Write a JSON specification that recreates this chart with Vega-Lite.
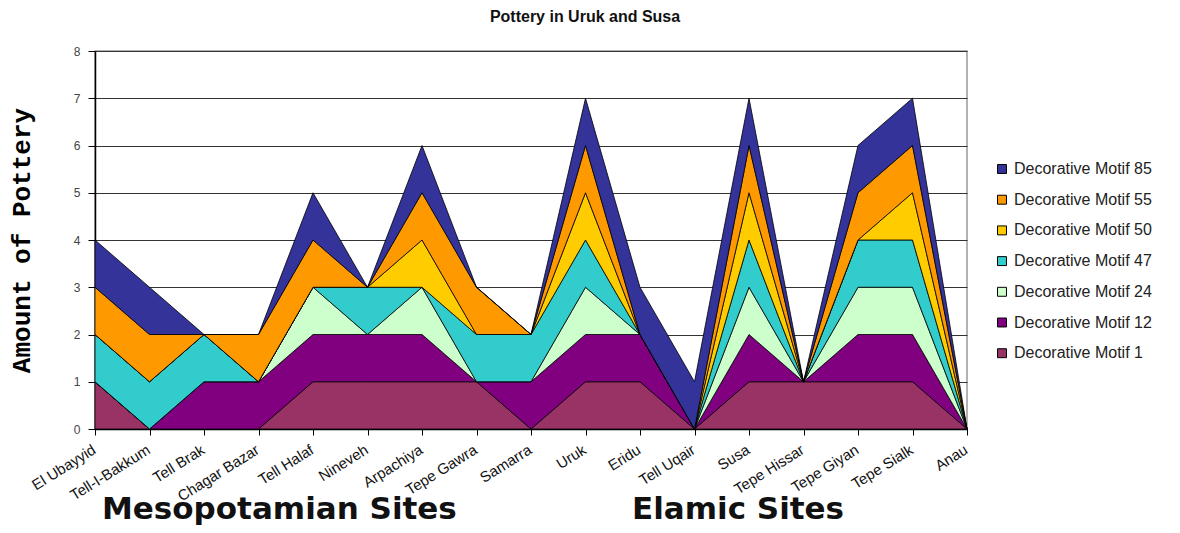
{
  "$schema": "https://vega.github.io/schema/vega-lite/v6.json",
  "autosize": {"type": "none"},
  "padding": {"left": 95, "top": 51, "right": 213, "bottom": 104},
  "width": 872,
  "height": 378,
  "background": "white",
  "title": {
    "text": "Pottery in Uruk and Susa",
    "font": "Liberation Sans",
    "fontSize": 16,
    "fontWeight": "bold",
    "color": "#111",
    "anchor": "middle",
    "dx": 54,
    "offset": 20
  },
  "config": {
    "view": {"stroke": "#999", "strokeWidth": 1.5},
    "axis": {"labelFont": "Liberation Sans", "titleFont": "Liberation Sans"}
  },
  "datasets": {
    "pottery": [
      {"site": "El Ubayyid", "motif": "Decorative Motif 1", "n": 1},
      {"site": "El Ubayyid", "motif": "Decorative Motif 12", "n": 0},
      {"site": "El Ubayyid", "motif": "Decorative Motif 24", "n": 0},
      {"site": "El Ubayyid", "motif": "Decorative Motif 47", "n": 1},
      {"site": "El Ubayyid", "motif": "Decorative Motif 50", "n": 0},
      {"site": "El Ubayyid", "motif": "Decorative Motif 55", "n": 1},
      {"site": "El Ubayyid", "motif": "Decorative Motif 85", "n": 1},
      {"site": "Tell-I-Bakkum", "motif": "Decorative Motif 1", "n": 0},
      {"site": "Tell-I-Bakkum", "motif": "Decorative Motif 12", "n": 0},
      {"site": "Tell-I-Bakkum", "motif": "Decorative Motif 24", "n": 0},
      {"site": "Tell-I-Bakkum", "motif": "Decorative Motif 47", "n": 1},
      {"site": "Tell-I-Bakkum", "motif": "Decorative Motif 50", "n": 0},
      {"site": "Tell-I-Bakkum", "motif": "Decorative Motif 55", "n": 1},
      {"site": "Tell-I-Bakkum", "motif": "Decorative Motif 85", "n": 1},
      {"site": "Tell Brak", "motif": "Decorative Motif 1", "n": 0},
      {"site": "Tell Brak", "motif": "Decorative Motif 12", "n": 1},
      {"site": "Tell Brak", "motif": "Decorative Motif 24", "n": 0},
      {"site": "Tell Brak", "motif": "Decorative Motif 47", "n": 1},
      {"site": "Tell Brak", "motif": "Decorative Motif 50", "n": 0},
      {"site": "Tell Brak", "motif": "Decorative Motif 55", "n": 0},
      {"site": "Tell Brak", "motif": "Decorative Motif 85", "n": 0},
      {"site": "Chagar Bazar", "motif": "Decorative Motif 1", "n": 0},
      {"site": "Chagar Bazar", "motif": "Decorative Motif 12", "n": 1},
      {"site": "Chagar Bazar", "motif": "Decorative Motif 24", "n": 0},
      {"site": "Chagar Bazar", "motif": "Decorative Motif 47", "n": 0},
      {"site": "Chagar Bazar", "motif": "Decorative Motif 50", "n": 0},
      {"site": "Chagar Bazar", "motif": "Decorative Motif 55", "n": 1},
      {"site": "Chagar Bazar", "motif": "Decorative Motif 85", "n": 0},
      {"site": "Tell Halaf", "motif": "Decorative Motif 1", "n": 1},
      {"site": "Tell Halaf", "motif": "Decorative Motif 12", "n": 1},
      {"site": "Tell Halaf", "motif": "Decorative Motif 24", "n": 1},
      {"site": "Tell Halaf", "motif": "Decorative Motif 47", "n": 0},
      {"site": "Tell Halaf", "motif": "Decorative Motif 50", "n": 0},
      {"site": "Tell Halaf", "motif": "Decorative Motif 55", "n": 1},
      {"site": "Tell Halaf", "motif": "Decorative Motif 85", "n": 1},
      {"site": "Nineveh", "motif": "Decorative Motif 1", "n": 1},
      {"site": "Nineveh", "motif": "Decorative Motif 12", "n": 1},
      {"site": "Nineveh", "motif": "Decorative Motif 24", "n": 0},
      {"site": "Nineveh", "motif": "Decorative Motif 47", "n": 1},
      {"site": "Nineveh", "motif": "Decorative Motif 50", "n": 0},
      {"site": "Nineveh", "motif": "Decorative Motif 55", "n": 0},
      {"site": "Nineveh", "motif": "Decorative Motif 85", "n": 0},
      {"site": "Arpachiya", "motif": "Decorative Motif 1", "n": 1},
      {"site": "Arpachiya", "motif": "Decorative Motif 12", "n": 1},
      {"site": "Arpachiya", "motif": "Decorative Motif 24", "n": 1},
      {"site": "Arpachiya", "motif": "Decorative Motif 47", "n": 0},
      {"site": "Arpachiya", "motif": "Decorative Motif 50", "n": 1},
      {"site": "Arpachiya", "motif": "Decorative Motif 55", "n": 1},
      {"site": "Arpachiya", "motif": "Decorative Motif 85", "n": 1},
      {"site": "Tepe Gawra", "motif": "Decorative Motif 1", "n": 1},
      {"site": "Tepe Gawra", "motif": "Decorative Motif 12", "n": 0},
      {"site": "Tepe Gawra", "motif": "Decorative Motif 24", "n": 0},
      {"site": "Tepe Gawra", "motif": "Decorative Motif 47", "n": 1},
      {"site": "Tepe Gawra", "motif": "Decorative Motif 50", "n": 0},
      {"site": "Tepe Gawra", "motif": "Decorative Motif 55", "n": 1},
      {"site": "Tepe Gawra", "motif": "Decorative Motif 85", "n": 0},
      {"site": "Samarra", "motif": "Decorative Motif 1", "n": 0},
      {"site": "Samarra", "motif": "Decorative Motif 12", "n": 1},
      {"site": "Samarra", "motif": "Decorative Motif 24", "n": 0},
      {"site": "Samarra", "motif": "Decorative Motif 47", "n": 1},
      {"site": "Samarra", "motif": "Decorative Motif 50", "n": 0},
      {"site": "Samarra", "motif": "Decorative Motif 55", "n": 0},
      {"site": "Samarra", "motif": "Decorative Motif 85", "n": 0},
      {"site": "Uruk", "motif": "Decorative Motif 1", "n": 1},
      {"site": "Uruk", "motif": "Decorative Motif 12", "n": 1},
      {"site": "Uruk", "motif": "Decorative Motif 24", "n": 1},
      {"site": "Uruk", "motif": "Decorative Motif 47", "n": 1},
      {"site": "Uruk", "motif": "Decorative Motif 50", "n": 1},
      {"site": "Uruk", "motif": "Decorative Motif 55", "n": 1},
      {"site": "Uruk", "motif": "Decorative Motif 85", "n": 1},
      {"site": "Eridu", "motif": "Decorative Motif 1", "n": 1},
      {"site": "Eridu", "motif": "Decorative Motif 12", "n": 1},
      {"site": "Eridu", "motif": "Decorative Motif 24", "n": 0},
      {"site": "Eridu", "motif": "Decorative Motif 47", "n": 0},
      {"site": "Eridu", "motif": "Decorative Motif 50", "n": 0},
      {"site": "Eridu", "motif": "Decorative Motif 55", "n": 0},
      {"site": "Eridu", "motif": "Decorative Motif 85", "n": 1},
      {"site": "Tell Uqair", "motif": "Decorative Motif 1", "n": 0},
      {"site": "Tell Uqair", "motif": "Decorative Motif 12", "n": 0},
      {"site": "Tell Uqair", "motif": "Decorative Motif 24", "n": 0},
      {"site": "Tell Uqair", "motif": "Decorative Motif 47", "n": 0},
      {"site": "Tell Uqair", "motif": "Decorative Motif 50", "n": 0},
      {"site": "Tell Uqair", "motif": "Decorative Motif 55", "n": 0},
      {"site": "Tell Uqair", "motif": "Decorative Motif 85", "n": 1},
      {"site": "Susa", "motif": "Decorative Motif 1", "n": 1},
      {"site": "Susa", "motif": "Decorative Motif 12", "n": 1},
      {"site": "Susa", "motif": "Decorative Motif 24", "n": 1},
      {"site": "Susa", "motif": "Decorative Motif 47", "n": 1},
      {"site": "Susa", "motif": "Decorative Motif 50", "n": 1},
      {"site": "Susa", "motif": "Decorative Motif 55", "n": 1},
      {"site": "Susa", "motif": "Decorative Motif 85", "n": 1},
      {"site": "Tepe Hissar", "motif": "Decorative Motif 1", "n": 1},
      {"site": "Tepe Hissar", "motif": "Decorative Motif 12", "n": 0},
      {"site": "Tepe Hissar", "motif": "Decorative Motif 24", "n": 0},
      {"site": "Tepe Hissar", "motif": "Decorative Motif 47", "n": 0},
      {"site": "Tepe Hissar", "motif": "Decorative Motif 50", "n": 0},
      {"site": "Tepe Hissar", "motif": "Decorative Motif 55", "n": 0},
      {"site": "Tepe Hissar", "motif": "Decorative Motif 85", "n": 0},
      {"site": "Tepe Giyan", "motif": "Decorative Motif 1", "n": 1},
      {"site": "Tepe Giyan", "motif": "Decorative Motif 12", "n": 1},
      {"site": "Tepe Giyan", "motif": "Decorative Motif 24", "n": 1},
      {"site": "Tepe Giyan", "motif": "Decorative Motif 47", "n": 1},
      {"site": "Tepe Giyan", "motif": "Decorative Motif 50", "n": 0},
      {"site": "Tepe Giyan", "motif": "Decorative Motif 55", "n": 1},
      {"site": "Tepe Giyan", "motif": "Decorative Motif 85", "n": 1},
      {"site": "Tepe Sialk", "motif": "Decorative Motif 1", "n": 1},
      {"site": "Tepe Sialk", "motif": "Decorative Motif 12", "n": 1},
      {"site": "Tepe Sialk", "motif": "Decorative Motif 24", "n": 1},
      {"site": "Tepe Sialk", "motif": "Decorative Motif 47", "n": 1},
      {"site": "Tepe Sialk", "motif": "Decorative Motif 50", "n": 1},
      {"site": "Tepe Sialk", "motif": "Decorative Motif 55", "n": 1},
      {"site": "Tepe Sialk", "motif": "Decorative Motif 85", "n": 1},
      {"site": "Anau", "motif": "Decorative Motif 1", "n": 0},
      {"site": "Anau", "motif": "Decorative Motif 12", "n": 0},
      {"site": "Anau", "motif": "Decorative Motif 24", "n": 0},
      {"site": "Anau", "motif": "Decorative Motif 47", "n": 0},
      {"site": "Anau", "motif": "Decorative Motif 50", "n": 0},
      {"site": "Anau", "motif": "Decorative Motif 55", "n": 0},
      {"site": "Anau", "motif": "Decorative Motif 85", "n": 0}
    ],
    "groups": [
      {"group": "Mesopotamian Sites", "site": "El Ubayyid"},
      {"group": "Elamic Sites", "site": "Eridu"}
    ]
  },
  "layer": [
    {
      "data": {"name": "pottery"},
      "mark": {"type": "area", "line": false, "stroke": "black", "strokeWidth": 0.8, "opacity": 1},
      "encoding": {
        "x": {
          "field": "site",
          "type": "nominal",
          "scale": {
            "type": "point",
            "padding": 0,
            "domain": ["El Ubayyid", "Tell-I-Bakkum", "Tell Brak", "Chagar Bazar", "Tell Halaf", "Nineveh", "Arpachiya", "Tepe Gawra", "Samarra", "Uruk", "Eridu", "Tell Uqair", "Susa", "Tepe Hissar", "Tepe Giyan", "Tepe Sialk", "Anau"]
          },
          "axis": {
            "title": null,
            "labelAngle": -32,
            "labelAlign": "right",
            "labelBaseline": "top",
            "labelFontSize": 15,
            "labelColor": "#111",
            "labelPadding": 7,
            "labelOffset": -5,
            "tickSize": 6,
            "tickColor": "#000",
            "domainColor": "#000",
            "domainWidth": 1.5,
            "grid": false
          }
        },
        "y": {
          "field": "n",
          "type": "quantitative",
          "aggregate": "sum",
          "stack": "zero",
          "scale": {"domain": [0, 8], "nice": false},
          "axis": {
            "title": "Amount of Pottery",
            "titleFont": "Liberation Mono",
            "titleFontSize": 26,
            "titleFontWeight": "bold",
            "titleColor": "#000",
            "titlePadding": 39,
            "values": [0, 1, 2, 3, 4, 5, 6, 7, 8],
            "format": "d",
            "labelFontSize": 12,
            "labelColor": "#444",
            "labelPadding": 8,
            "tickSize": 7,
            "tickColor": "#000",
            "domainColor": "#000",
            "domainWidth": 1.5,
            "grid": true,
            "gridColor": "#333",
            "gridWidth": 1
          }
        },
        "color": {
          "field": "motif",
          "type": "nominal",
          "scale": {
            "domain": ["Decorative Motif 85", "Decorative Motif 55", "Decorative Motif 50", "Decorative Motif 47", "Decorative Motif 24", "Decorative Motif 12", "Decorative Motif 1"],
            "range": ["#333399", "#FF9900", "#FFCC00", "#33CCCC", "#CCFFCC", "#800080", "#993366"]
          },
          "legend": {
            "title": null,
            "orient": "none",
            "legendX": 899,
            "legendY": 110,
            "symbolType": "square",
            "symbolSize": 80,
            "symbolStrokeColor": "#000",
            "symbolStrokeWidth": 1,
            "labelFont": "Liberation Sans",
            "labelFontSize": 16,
            "labelColor": "#222",
            "rowPadding": 14.7,
            "labelOffset": 4
          }
        },
        "order": {"field": "motif", "sort": "ascending"}
      }
    },
    {
      "data": {"name": "groups"},
      "transform": [{"filter": "datum.group === 'Mesopotamian Sites'"}],
      "mark": {"type": "text", "align": "left", "baseline": "alphabetic", "font": "DejaVu Sans", "fontSize": 31, "fontWeight": "bold", "color": "#111", "dx": 7},
      "encoding": {
        "x": {"field": "site", "type": "nominal"},
        "y": {"datum": -1.9, "type": "quantitative"},
        "text": {"field": "group"}
      }
    },
    {
      "data": {"name": "groups"},
      "transform": [{"filter": "datum.group === 'Elamic Sites'"}],
      "mark": {"type": "text", "align": "left", "baseline": "alphabetic", "font": "DejaVu Sans", "fontSize": 31, "fontWeight": "bold", "color": "#111", "dx": -8},
      "encoding": {
        "x": {"field": "site", "type": "nominal"},
        "y": {"datum": -1.9, "type": "quantitative"},
        "text": {"field": "group"}
      }
    }
  ]
}
